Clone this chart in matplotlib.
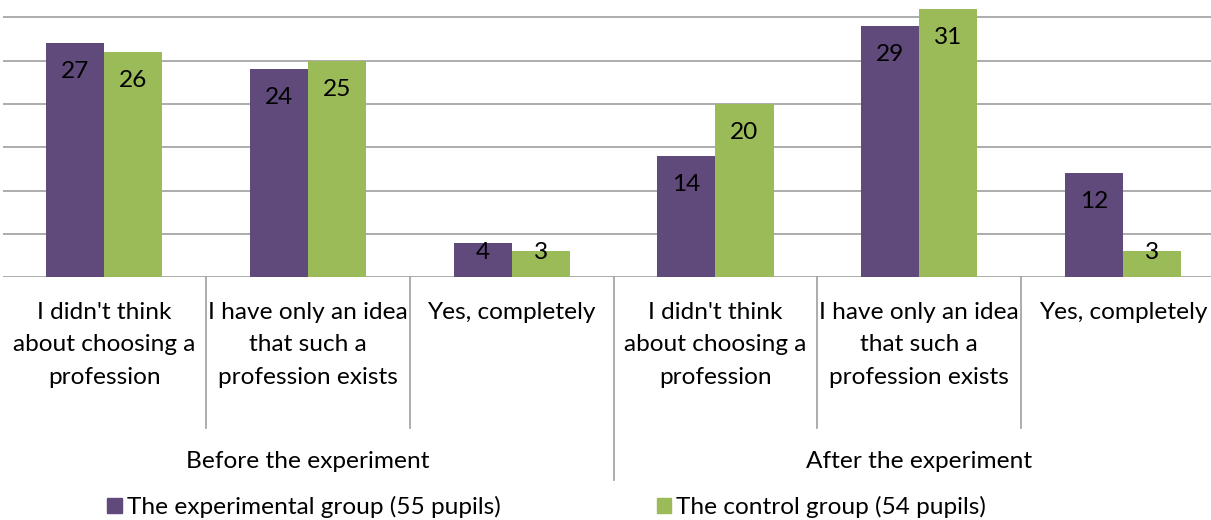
import matplotlib
matplotlib.use("Agg")
import matplotlib.pyplot as plt
import numpy as np
from matplotlib.transforms import blended_transform_factory
from matplotlib.patches import Patch

plt.rcParams['font.family'] = ['Lato', 'DejaVu Sans']

categories = [
    "I didn't think\nabout choosing a\nprofession",
    "I have only an idea\nthat such a\nprofession exists",
    "Yes, completely",
    "I didn't think\nabout choosing a\nprofession",
    "I have only an idea\nthat such a\nprofession exists",
    "Yes, completely",
]
groups = ["Before the experiment", "After the experiment"]
experimental = [27, 24, 4, 14, 29, 12]
control = [26, 25, 3, 20, 31, 3]
series_names = ["The experimental group (55 pupils)", "The control group (54 pupils)"]

PURPLE = "#604A7B"
GREEN = "#9BBB59"
GRID = "#A6A6A6"
TXT = "#000000"
FS = 17.6

W, H = 1211, 520
fig = plt.figure(figsize=(W / 100, H / 100), dpi=100)
base_px = 277.3
left_px, right_px = 2.5, 1224.7
ax = fig.add_axes([left_px / W, (H - base_px) / H, (right_px - left_px) / W, base_px / H])

n = len(categories)
x = np.arange(n)
bw = 0.285
ax.bar(x - bw / 2, experimental, bw, color=PURPLE, zorder=3)
ax.bar(x + bw / 2, control, bw, color=GREEN, zorder=3)

ax.set_xlim(-0.5, n - 0.5)
ax.set_ylim(0, 32.0)
ax.set_yticks([0, 5, 10, 15, 20, 25, 30])
ax.yaxis.grid(True, color=GRID, lw=1.3)
ax.set_axisbelow(True)
ax.tick_params(left=False, labelleft=False, bottom=False, labelbottom=False)
for s in ax.spines.values():
    s.set_visible(False)

# data labels (inside end, clamped for short bars)
for xs, vals in ((x - bw / 2, experimental), (x + bw / 2, control)):
    for xi, v in zip(xs, vals):
        ly = max(v - 3.3, 2.9)
        ax.text(xi, ly, str(v), ha='center', va='center', fontsize=FS, color=TXT, zorder=4)

trans = blended_transform_factory(ax.transData, ax.transAxes)
px = 1.0 / base_px
# category separators
for b in np.arange(0.5, n - 0.5, 1.0):
    long = abs(b - 2.5) < 1e-9
    ybot = -(480 - base_px) * px if long else -(428 - base_px) * px
    ax.plot([b, b], [0, ybot], color=GRID, lw=1.3, transform=trans, clip_on=False)

# category labels
for xi, lab in zip(x, categories):
    ax.text(xi, -(302 - base_px) * px, lab, ha='center', va='top', fontsize=FS,
            linespacing=1.67, color=TXT, transform=trans)

# group labels
for gi, g in enumerate(groups):
    ax.text(gi * 3 + 1, -(461 - base_px) * px, g, ha='center', va='center', fontsize=FS,
            color=TXT, transform=trans)

handles = [Patch(color=PURPLE), Patch(color=GREEN)]
fig.legend(handles, series_names, loc='center left', bbox_to_anchor=(107 / W, 1 - 507 / H),
           ncol=2, frameon=False, fontsize=FS, handlelength=0.6, handleheight=0.6,
           handletextpad=0.2, columnspacing=6.4, borderpad=0, borderaxespad=0,
           labelcolor=TXT)

fig.savefig("out.png", dpi=100)
